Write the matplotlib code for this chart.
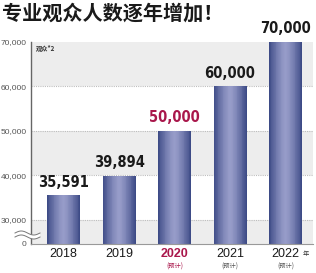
import numpy as np
import matplotlib
matplotlib.use("Agg")
import matplotlib.pyplot as plt
from matplotlib.colors import to_rgb

plt.rcParams['font.family'] = ['Liberation Sans', 'Noto Sans CJK SC', 'DejaVu Sans']

years = ['2018', '2019', '2020', '2021', '2022']
visitors = [35591, 39894, 50000, 60000, 70000]
value_labels = ['35,591', '39,894', '50,000', '60,000', '70,000']
forecast = [False, False, True, True, True]
highlight = 2
y_ticks = [0, 30000, 40000, 50000, 60000, 70000]
y_tick_labels = ['0', '30,000', '40,000', '50,000', '60,000', '70,000']

RED = '#a9174b'
DARK = np.array(to_rgb('#3a4884'))
LIGHT = np.array(to_rgb('#979cc9'))

# broken axis: 0..30000 squeezed into a short stub
def fwd(v):
    v = np.asarray(v, dtype=float)
    return np.where(v <= 30000, v * 5400 / 30000, v - 24600)

def inv(d):
    d = np.asarray(d, dtype=float)
    return np.where(d <= 5400, d * 30000 / 5400, d + 24600)

fig = plt.figure(figsize=(3.16, 2.73), dpi=100)
ax = fig.add_axes([31/316, 1 - 244/273, 282/316, 202/273])
ax.set_yscale('function', functions=(fwd, inv))
ax.set_ylim(0, 70000)
ax.set_xlim(-0.586, 4.495)

# alternating bands
bands = [(0, 30000, '#ededed'), (30000, 40000, 'white'), (40000, 50000, '#ededed'),
         (50000, 60000, 'white'), (60000, 70000, '#ededed')]
for lo, hi, c in bands:
    ax.axhspan(lo, hi, color=c, zorder=0, lw=0)
for t in y_ticks[1:-1]:
    ax.axhline(t, color='#bdbdbd', lw=0.8, ls=(0, (1, 1)), zorder=1)

# bars with horizontal gradient
w = 0.595
n = 40
for i, v in enumerate(visitors):
    for k in range(n):
        u = (k + 0.5) / n
        t = abs(2 * u - 1) ** 1.4
        c = LIGHT * (1 - t) + DARK * t
        ax.bar(i - w/2 + k * w / n, v, width=w / n, align='edge', color=c, lw=0, zorder=2)
    ax.annotate(value_labels[i], (i, v), xytext=(0, 4), textcoords='offset points',
                ha='center', va='bottom', fontsize=10.5, fontweight='bold',
                family=['DejaVu Sans'], fontstretch='condensed',
                color=RED if i == highlight else '#1a1a1a', annotation_clip=False)

ax.set_yticks(y_ticks)
ax.set_yticklabels(y_tick_labels, fontsize=6, color='#555555')
ax.tick_params(axis='y', length=0, pad=3)
ax.set_xticks(range(len(years)))
ax.set_xticklabels([])
ax.tick_params(axis='x', length=0)
for i, yr in enumerate(years):
    col = RED if i == highlight else '#1a1a1a'
    ax.text(i, -0.05, yr, transform=ax.get_xaxis_transform(), ha='center', va='center',
            fontsize=9, color=col, fontweight='bold' if i == highlight else 'normal')
    if forecast[i]:
        ax.text(i, -0.11, '(预计)', transform=ax.get_xaxis_transform(), ha='center',
                va='center', fontsize=4.5, color=col if i == highlight else '#555555',
                family=['Noto Sans CJK SC'])
ax.text(0.985, -0.05, '年', transform=ax.transAxes, ha='right', va='center', fontsize=4.5,
        color='#333333', family=['Noto Sans CJK SC'])
ax.text(0.018, 0.985, '观众*2', transform=ax.transAxes, ha='left', va='top', fontsize=4.5,
        fontweight='bold', color='#333333', family=['Noto Sans CJK SC'])

for s in ['top', 'right']:
    ax.spines[s].set_visible(False)
ax.spines['left'].set_color('#666666')
ax.spines['left'].set_linewidth(1.0)
ax.spines['bottom'].set_color('#999999')
ax.spines['bottom'].set_linewidth(0.8)

# break mark on the axis
xs = np.linspace(15, 40, 80)
yc = 273 - 235
wave = 2.0 * np.sin((xs - 15) / 25 * 2 * np.pi)
fig.patches.append(plt.Polygon(np.column_stack([np.r_[xs, xs[::-1]] / 316,
                   (np.r_[yc + 2 + wave, (yc - 2 + wave)[::-1]]) / 273]),
                   closed=True, transform=fig.transFigure, color='white', lw=0, zorder=5))
for off in (2, -2):
    fig.add_artist(plt.Line2D(xs / 316, (yc + off + wave) / 273, color='#777777', lw=0.7, zorder=6))

fig.text(2/316, 1 - 13/273, '专业观众人数逐年增加！', ha='left', va='center', fontsize=14.5,
         fontweight='bold', color='#1a1a1a', family=['Noto Sans CJK SC'])

fig.savefig('out.png', dpi=100)
